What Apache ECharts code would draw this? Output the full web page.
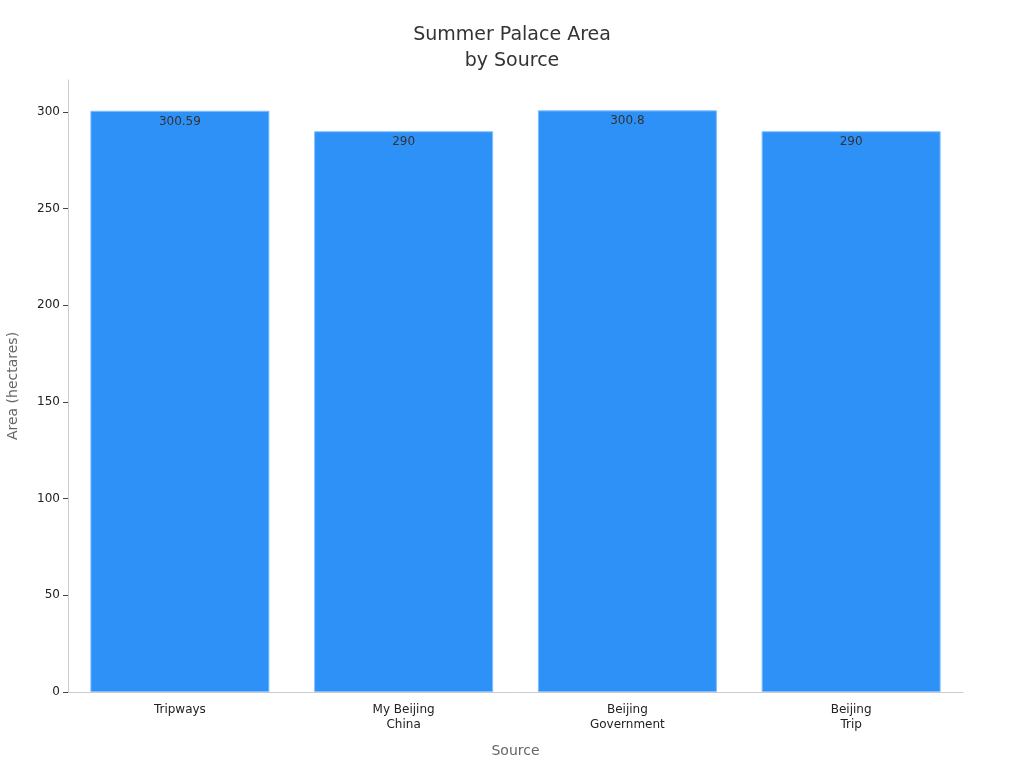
<!DOCTYPE html>
<html>
<head>
<meta charset="utf-8">
<script src="https://cdn.jsdelivr.net/npm/echarts@6/dist/echarts.min.js"></script>
<style>html,body{margin:0;padding:0;background:#fff}#c{width:1024px;height:768px}</style>
</head>
<body>
<div id="c"></div>
<script>
const categories = ['Tripways', 'My Beijing\nChina', 'Beijing\nGovernment', 'Beijing\nTrip'];
const areaValues = [300.59, 290, 300.8, 290];
const chart = echarts.init(document.getElementById('c'));
chart.setOption({
  backgroundColor: '#fff',
  textStyle: { fontFamily: 'DejaVu Sans' },
  title: {
    text: 'Summer Palace Area\nby Source',
    left: 'center', top: 17,
    textStyle: { fontSize: 19, fontWeight: 'normal', color: '#333', lineHeight: 26, fontFamily: 'DejaVu Sans' }
  },
  grid: { left: 68, right: 61, top: 80, bottom: 76, outerBoundsMode: 'none', containLabel: false },
  xAxis: {
    type: 'category', data: categories,
    name: 'Source', nameLocation: 'middle', nameGap: 52,
    nameTextStyle: { color: '#666', fontSize: 14 },
    axisLine: { lineStyle: { color: '#ccc' } },
    axisTick: { alignWithLabel: true, lineStyle: { color: '#444' }, length: 5 },
    axisLabel: { color: '#222', fontSize: 12, lineHeight: 15, margin: 10 }
  },
  yAxis: {
    type: 'value', min: 0, max: 316.5, interval: 50,
    name: 'Area (hectares)', nameLocation: 'middle', nameGap: 48,
    nameTextStyle: { color: '#666', fontSize: 14 },
    axisLine: { show: true, lineStyle: { color: '#ccc' } },
    axisTick: { show: true, length: 5, lineStyle: { color: '#444' } },
    axisLabel: { color: '#222', fontSize: 12, showMaxLabel: false, margin: 8 },
    splitLine: { show: false }
  },
  series: [{
    type: 'bar', data: areaValues, barCategoryGap: '20%',
    itemStyle: { color: '#2E91F7', borderColor: '#7fbfff', borderWidth: 1 },
    label: { show: true, position: 'insideTop', distance: 5, color: '#333', fontSize: 12 }
  }]
});
</script>
</body>
</html>
